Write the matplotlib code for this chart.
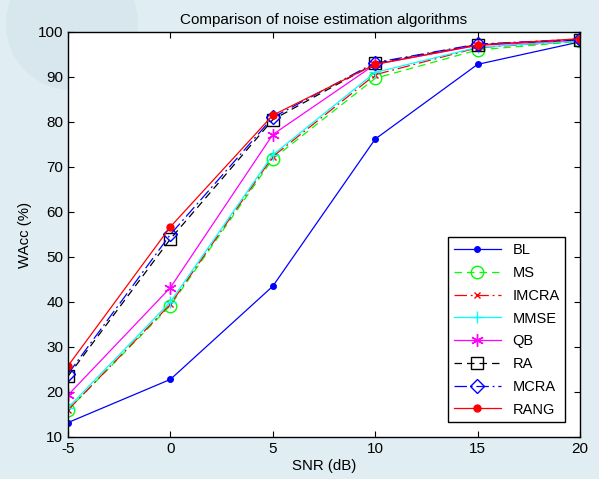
import matplotlib
matplotlib.use('Agg')
import matplotlib.pyplot as plt
from matplotlib.patches import Circle

plt.rcParams['font.family'] = ['Liberation Sans', 'DejaVu Sans']
plt.rcParams['axes.unicode_minus'] = False

snr = [-5, 0, 5, 10, 15, 20]
bl = [13.2, 22.8, 43.5, 76.2, 92.8, 97.8]
ms = [16.0, 39.2, 71.8, 89.7, 96.0, 97.9]
imcra = [16.0, 39.5, 72.3, 90.5, 96.5, 98.0]
mmse = [16.5, 40.0, 72.7, 91.0, 96.6, 98.0]
qb = [19.3, 43.2, 77.2, 92.8, 97.0, 98.2]
ra = [23.5, 54.0, 80.5, 93.0, 97.2, 98.3]
mcra = [24.0, 55.0, 81.0, 93.2, 97.3, 98.4]
rang = [25.8, 56.7, 81.5, 92.8, 97.1, 98.5]

fig = plt.figure(figsize=(5.99, 4.79), dpi=100, facecolor='#e0eef3')
# faint decoration in the background
fig.patches.append(Circle((0.72, 4.55), 0.66, transform=fig.dpi_scale_trans,
                          facecolor='#d8e7ed', edgecolor='none', zorder=-5))
ax = fig.add_axes([0.1135, 0.0877, 0.8548, 0.8456])

lw = 0.9
ax.plot(snr, bl, '.-', color='#0000ff', lw=lw, ms=8, label='BL')
ax.plot(snr, ms, '--o', color='#00ff00', lw=lw, ms=9, mfc='none', label='MS', dashes=(6, 4))
ax.plot(snr, imcra, '-.x', color='#ff0000', lw=lw, ms=5, label='IMCRA', dashes=(10, 3, 1.5, 3))
ax.plot(snr, mmse, '-+', color='#00ffff', lw=lw, ms=9, label='MMSE')
ax.plot(snr, qb, '-', marker=(6, 2, 0), color='#ff00ff', lw=lw, ms=9, label='QB')
ax.plot(snr, ra, '--s', color='black', lw=lw, ms=9, mfc='none', label='RA', dashes=(6, 4))
ax.plot(snr, mcra, '-.D', color='#0000ff', lw=lw, ms=7, mfc='none', label='MCRA', dashes=(10, 3, 1.5, 3))
ax.plot(snr, rang, '.-', color='#ff0000', lw=lw, ms=10, label='RANG')

ax.set_xlim(-5, 20)
ax.set_ylim(10, 100)
ax.set_xticks(snr)
ax.set_yticks(range(10, 101, 10))
ax.tick_params(direction='in', top=True, right=True, labelsize=11, length=4)
for s in ax.spines.values():
    s.set_linewidth(1.0)
ax.set_title('Comparison of noise estimation algorithms', fontsize=11)
ax.set_xlabel('SNR (dB)', fontsize=10.8, labelpad=2)
ax.set_ylabel('WAcc (%)', fontsize=10.8)
ax.legend(loc='lower right', fontsize=10.5, fancybox=False, edgecolor='black',
          framealpha=1, handlelength=3.2, borderaxespad=1.0, labelspacing=0.6,
          numpoints=1)

plt.savefig('out.png', facecolor=fig.get_facecolor())
